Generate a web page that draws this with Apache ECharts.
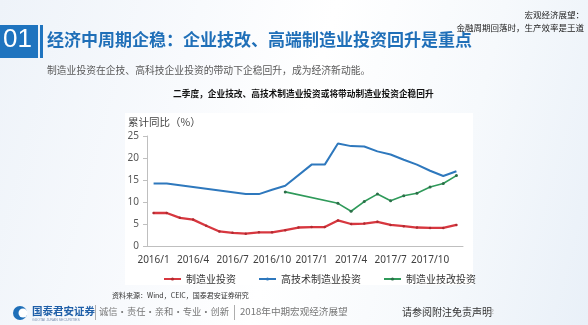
<!DOCTYPE html>
<html><head><meta charset="utf-8">
<script src="https://cdn.jsdelivr.net/npm/echarts@6/dist/echarts.min.js"></script>
<style>
html,body{margin:0;padding:0;width:588px;height:325px;overflow:hidden;}
body{background:linear-gradient(105deg,#eef3f9 0%,#f8fafd 30%,#ffffff 50%,#f6f9fc 75%,#e9f0f8 100%);}
#c{width:588px;height:325px;}
</style></head>
<body><div id="c"></div>
<script>
const categories = ['2016/1','2016/2','2016/3','2016/4','2016/5','2016/6','2016/7','2016/8','2016/9','2016/10','2016/11','2016/12',
                    '2017/1','2017/2','2017/3','2017/4','2017/5','2017/6','2017/7','2017/8','2017/9','2017/10','2017/11','2017/12'];
const seriesNames = ['制造业投资','高技术制造业投资','制造业技改投资'];
const manufacturing = [7.5,7.5,6.4,6.0,4.6,3.3,3.0,2.8,3.1,3.1,3.6,4.2,4.3,4.3,5.8,5.0,5.1,5.5,4.8,4.5,4.2,4.1,4.1,4.8];
const highTech = [14.2,14.2,null,null,null,null,null,11.8,11.8,12.8,13.7,null,18.5,18.5,23.3,22.7,22.6,21.5,20.8,19.6,18.5,17.1,15.9,17.0];
const techUpgrade = [null,null,null,null,null,null,null,null,null,null,12.3,null,null,null,9.7,7.9,10.1,11.8,10.3,11.4,12.0,13.4,14.2,16.0];
const yTicks = {min:0,max:25,interval:5};

const CJK = '"Noto Sans CJK SC","Noto Sans",sans-serif';
const chart = echarts.init(document.getElementById('c'), null, {renderer:'canvas'});
chart.setOption({
  animation:false,
  textStyle:{fontFamily:CJK},
  graphic:[
    {type:'rect',shape:{x:125,y:113,width:348,height:172},style:{fill:'#ffffff'},z:-10},
    {type:'rect',shape:{x:0,y:25,width:38,height:33},style:{fill:'#1f74bf'}},
    {type:'text',left:3,top:27,style:{text:'01',fill:'#fff',font:'26px "Liberation Sans",sans-serif'}},
    {type:'rect',shape:{x:40,y:25,width:3,height:33},style:{fill:'#1f74bf'}},
    {type:'text',left:47,top:31,style:{text:'经济中周期企稳：企业技改、高端制造业投资回升是重点',fill:'#1f6fb8',font:'bold 17px '+CJK}},
    {type:'text',left:47,top:65,style:{text:'制造业投资在企技、高科技企业投资的带动下企稳回升，成为经济新动能。',fill:'#595959',font:'9.8px '+CJK}},
    {type:'text',right:4,top:11,style:{text:'宏观经济展望：',fill:'#222',font:'8.5px '+CJK,align:'right'}},
    {type:'text',right:4,top:24,style:{text:'金融周期回落时，生产效率是王道',fill:'#222',font:'8.5px '+CJK,align:'right'}},
    {type:'text',left:173,top:89,style:{text:'二季度，企业技改、高技术制造业投资或将带动制造业投资企稳回升',fill:'#111',font:'bold 8.7px '+CJK}},
    {type:'text',left:128,top:117,style:{text:'累计同比（%）',fill:'#444',font:'10.5px '+CJK}},
    {type:'text',left:112,top:292,style:{text:'资料来源：Wind，CEIC，国泰君安证券研究',fill:'#333',font:'7px '+CJK}},
    {type:'circle',shape:{cx:20,cy:313,r:7},style:{fill:'#1f6fb8'}},
    {type:'circle',shape:{cx:23,cy:313,r:4.5},style:{fill:'#ffffff'}},
    {type:'text',left:32,top:306,style:{text:'国泰君安证券',fill:'#1f5fa8',font:'bold 10.5px '+CJK}},
    {type:'text',left:32,top:318,style:{text:'GUOTAI JUNAN SECURITIES',fill:'#7a8fb0',font:'3.5px sans-serif'}},
    {type:'rect',shape:{x:95,y:305,width:0.8,height:15},style:{fill:'#999'}},
    {type:'text',left:99,top:307,style:{text:'诚信·责任·亲和·专业·创新',fill:'#777',font:'9.3px '+CJK}},
    {type:'rect',shape:{x:234,y:305,width:0.8,height:15},style:{fill:'#999'}},
    {type:'text',left:240,top:307,style:{text:'2018年中期宏观经济展望',fill:'#777',font:'9.6px '+CJK}},
    {type:'text',left:402,top:307,style:{text:'请参阅附注免责声明',fill:'#333',font:'10px '+CJK}},
    {type:'text',left:486,top:309,style:{text:'22',fill:'#aaa',font:'7px sans-serif'}}
  ],
  grid:{left:147,right:125,top:136,bottom:79,containLabel:false},
  legend:{
    left:158, top:269, itemGap:22, itemWidth:17, itemHeight:4,
    textStyle:{fontSize:10,color:'#333',fontFamily:CJK},
    data:seriesNames
  },
  xAxis:{
    type:'category', data:categories, boundaryGap:true,
    axisLine:{lineStyle:{color:'#bfbfbf',width:1}},
    axisTick:{show:false},
    axisLabel:{interval:2,fontSize:10,color:'#404040',margin:9,fontFamily:'"Noto Sans",sans-serif'},
    splitLine:{show:false}
  },
  yAxis:{
    type:'value', min:yTicks.min, max:yTicks.max, interval:yTicks.interval,
    axisLine:{show:true,lineStyle:{color:'#bfbfbf'}},
    axisTick:{show:true,length:4,lineStyle:{color:'#bfbfbf'}},
    axisLabel:{fontSize:10,color:'#595959',margin:8,fontFamily:'"Noto Sans",sans-serif'},
    splitLine:{show:false}
  },
  series:[
    {name:seriesNames[0],type:'line',data:manufacturing,connectNulls:true,
     lineStyle:{color:'#d7373f',width:2.3},itemStyle:{color:'#b02a30'},
     symbol:'circle',symbolSize:2.5,showSymbol:true},
    {name:seriesNames[1],type:'line',data:highTech,connectNulls:true,
     lineStyle:{color:'#2e78bd',width:2},itemStyle:{color:'#2e78bd'},
     symbol:'none'},
    {name:seriesNames[2],type:'line',data:techUpgrade,connectNulls:true,
     lineStyle:{color:'#2f9a5a',width:1.6},itemStyle:{color:'#2c6e48'},
     symbol:'circle',symbolSize:3,showSymbol:true}
  ]
});
</script></body></html>
